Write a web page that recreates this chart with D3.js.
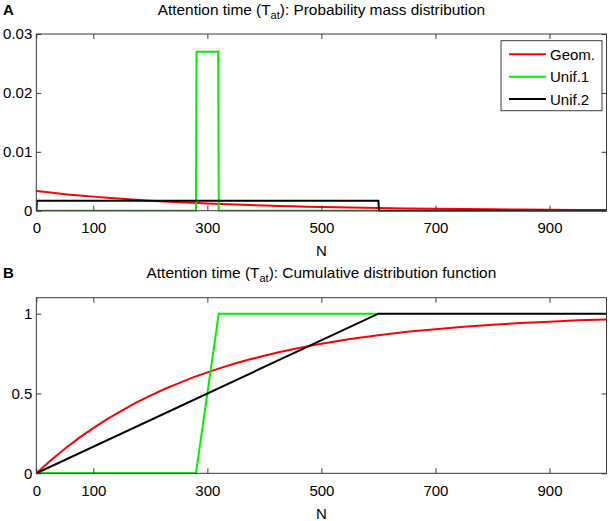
<!DOCTYPE html>
<html>
<head>
<meta charset="utf-8">
<script src="https://cdn.jsdelivr.net/npm/d3@7"></script>
<style>
  body { margin: 0; background: #fff; }
  text { font-family: "Liberation Sans", Arial, sans-serif; font-size: 15px; fill: #000; }
</style>
</head>
<body>
<div id="chart"></div>
<script>
// values
const xTicks = [0, 100, 300, 500, 700, 900];
const pmfTicks = [0, 0.01, 0.02, 0.03];
const cdfTicks = [0, 0.5, 1];
const seriesNames = ["Geom.", "Unif.1", "Unif.2"];
const seriesColors = ["#ff0000", "#00ee00", "#000000"];

const geomN = [0, 25, 50, 75, 100, 125, 150, 175, 200, 225, 250, 275, 300, 325, 350, 375, 400, 425, 450, 475, 500, 550, 600, 650, 700, 750, 800, 850, 900, 950, 1000];
const geomPmf = [0.00333, 0.00307, 0.00281, 0.00259, 0.00239, 0.00220, 0.00202, 0.00186, 0.00171, 0.00157, 0.00145, 0.00133, 0.00122, 0.00113, 0.00104, 0.00095, 0.00088, 0.00081, 0.00074, 0.00068, 0.00063, 0.00053, 0.00045, 0.00038, 0.00032, 0.00027, 0.00023, 0.00020, 0.00017, 0.00014, 0.00012];
const geomCdf = [0, 0.080, 0.154, 0.222, 0.283, 0.341, 0.393, 0.443, 0.487, 0.528, 0.565, 0.601, 0.632, 0.662, 0.689, 0.714, 0.736, 0.758, 0.777, 0.795, 0.811, 0.841, 0.865, 0.886, 0.903, 0.918, 0.930, 0.942, 0.950, 0.958, 0.964];

const unif1PmfN = [0, 280, 281, 319, 320, 600];
const unif1Pmf = [0, 0, 0.027, 0.027, 0, 0];
const unif1CdfN = [0, 280, 320, 600];
const unif1Cdf = [0, 0, 1, 1];

const unif2PmfN = [0, 1, 600, 601, 1000];
const unif2Pmf = [0, 0.00167, 0.00167, 0, 0];
const unif2CdfN = [0, 600, 1000];
const unif2Cdf = [0, 1, 1];

const svg = d3.select("#chart").append("svg")
  .attr("width", 612)
  .attr("height", 521);

const x = d3.scaleLinear().domain([0, 1000]).range([36.3, 606.5]);

function zip(ns, vs) {
  return ns.map((n, i) => ({ n: n, v: vs[i] }));
}

function drawPanel(opts) {
  const y = d3.scaleLinear().domain(opts.yDomain).range([opts.bottom, opts.top]);
  const g = svg.append("g");
  const clipId = "clip-" + opts.letter;

  g.append("clipPath").attr("id", clipId)
    .append("rect")
    .attr("x", x.range()[0]).attr("y", opts.top - 2)
    .attr("width", x.range()[1] - x.range()[0])
    .attr("height", opts.bottom - opts.top + 3);

  const line = d3.line().x(d => x(d.n)).y(d => y(d.v));

  opts.series.forEach((s, i) => {
    g.append("path")
      .datum(s)
      .attr("clip-path", "url(#" + clipId + ")")
      .attr("fill", "none")
      .attr("stroke", seriesColors[i])
      .attr("stroke-width", 2)
      .attr("stroke-linejoin", "miter")
      .attr("d", line);
  });

  // axes, MATLAB style box with inward ticks
  const axisColor = "#3a3a3a";
  g.append("g")
    .attr("transform", "translate(0," + opts.bottom + ")")
    .call(d3.axisBottom(x).tickValues(xTicks).tickSizeInner(-5).tickSizeOuter(0).tickPadding(12).tickFormat(d3.format("d")))
    .call(a => a.select(".domain").remove());
  g.append("g")
    .attr("transform", "translate(0," + opts.top + ")")
    .call(d3.axisTop(x).tickValues(xTicks).tickSizeInner(-5).tickSizeOuter(0).tickFormat(""))
    .call(a => a.select(".domain").remove());
  g.append("g")
    .attr("transform", "translate(" + x.range()[0] + ",0)")
    .call(d3.axisLeft(y).tickValues(opts.yTicks).tickSizeInner(-5).tickSizeOuter(0).tickPadding(4).tickFormat(d => d === 0 ? "0" : String(d)))
    .call(a => a.select(".domain").remove());
  g.append("g")
    .attr("transform", "translate(" + x.range()[1] + ",0)")
    .call(d3.axisRight(y).tickValues(opts.yTicks).tickSizeInner(-5).tickSizeOuter(0).tickFormat(""))
    .call(a => a.select(".domain").remove());

  g.selectAll(".tick line").attr("stroke", axisColor);
  g.selectAll(".tick text")
    .style("font-family", "'Liberation Sans', Arial, sans-serif")
    .style("font-size", "15px")
    .attr("fill", "#000");

  g.append("rect")
    .attr("x", x.range()[0]).attr("y", opts.top)
    .attr("width", x.range()[1] - x.range()[0])
    .attr("height", opts.bottom - opts.top)
    .attr("fill", "none")
    .attr("stroke", axisColor)
    .attr("stroke-width", 1);

  // x label
  svg.append("text")
    .attr("x", (x.range()[0] + x.range()[1]) / 2)
    .attr("y", opts.bottom + 45.5)
    .attr("text-anchor", "middle")
    .text("N");

  // title with subscript
  const title = svg.append("text")
    .attr("x", (x.range()[0] + x.range()[1]) / 2)
    .attr("y", opts.titleY)
    .attr("text-anchor", "middle")
    .style("font-size", "15.4px");
  title.append("tspan").text("Attention time (T");
  title.append("tspan").attr("dy", 4).style("font-size", "11px").text("at");
  title.append("tspan").attr("dy", -4).text("): " + opts.title);

  svg.append("text")
    .attr("x", 3)
    .attr("y", opts.titleY)
    .style("font-weight", "bold")
    .text(opts.letter);

  return g;
}

const gA = drawPanel({
  letter: "A",
  title: "Probability mass distribution",
  titleY: 15,
  top: 34,
  bottom: 210.7,
  yDomain: [0, 0.03],
  yTicks: pmfTicks,
  series: [zip(geomN, geomPmf), zip(unif1PmfN, unif1Pmf), zip(unif2PmfN, unif2Pmf)]
});

drawPanel({
  letter: "B",
  title: "Cumulative distribution function",
  titleY: 278,
  top: 297.7,
  bottom: 473.3,
  yDomain: [0, 1.1],
  yTicks: cdfTicks,
  series: [zip(geomN, geomCdf), zip(unif1CdfN, unif1Cdf), zip(unif2CdfN, unif2Cdf)]
});

// legend in panel A
const legend = gA.append("g").attr("transform", "translate(501,40.7)");
legend.append("rect")
  .attr("width", 101).attr("height", 70)
  .attr("fill", "#fff")
  .attr("stroke", "#3a3a3a")
  .attr("stroke-width", 1);
const items = legend.selectAll(".legend-item")
  .data(seriesNames)
  .enter()
  .append("g")
  .attr("class", "legend-item")
  .attr("transform", (d, i) => "translate(0," + (13.6 + i * 22.4) + ")");
items.append("line")
  .attr("x1", 8).attr("x2", 45)
  .attr("stroke", (d, i) => seriesColors[i])
  .attr("stroke-width", 2);
items.append("text")
  .attr("x", 49)
  .attr("y", 5.4)
  .text(d => d);
</script>
</body>
</html>
